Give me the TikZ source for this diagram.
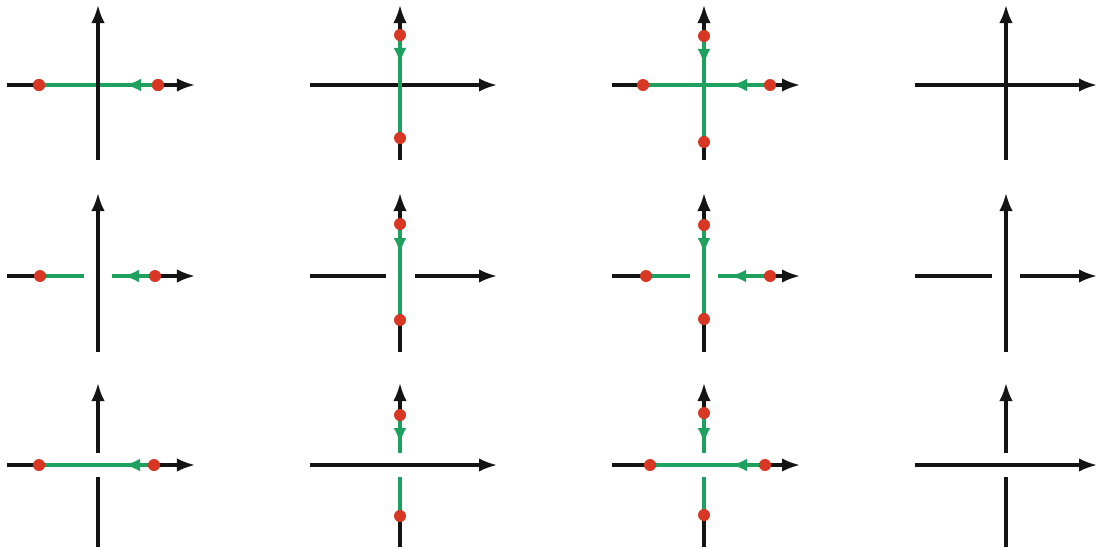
\documentclass[tikz,border=0pt]{standalone}
\usetikzlibrary{arrows.meta}
\definecolor{flowgreen}{RGB}{30,160,95}
\definecolor{fixred}{RGB}{215,55,35}
\tikzset{
  axisline/.style={line width=2.2pt, black!92},
  axisarrow/.style={axisline, -{Latex[length=0.45cm,width=0.34cm]}},
  greenline/.style={line width=2.2pt, flowgreen},
  greenarrow/.style={greenline, -{Latex[length=0.4cm,width=0.32cm]}},
  fixpt/.style={circle, fill=fixred, inner sep=0pt, minimum size=0.3cm}
}
\begin{document}
\begin{tikzpicture}[x=0.025cm, y=-0.025cm]
\useasboundingbox (0,0) rectangle (1098,547);

% row 1, column 1
\coordinate (l11) at (7,85);
\coordinate (r11) at (195,85);
\coordinate (b11) at (98,160);
\coordinate (t11) at (98,5);
\coordinate (h11) at (125,85);
\node[fixpt] (a11) at (39,85) {};
\node[fixpt] (c11) at (158,85) {};
\draw[axisarrow] (l11) -- (r11);
\draw[greenline] (a11.center) -- (c11.center);
\draw[greenarrow] (c11.center) -- (h11);
\draw[axisarrow] (b11) -- (t11);
\node[fixpt] at (a11) {};
\node[fixpt] at (c11) {};

% row 1, column 2
\coordinate (l12) at (310,85);
\coordinate (r12) at (497,85);
\coordinate (b12) at (400,160);
\coordinate (t12) at (400,5);
\coordinate (v12) at (400,64);
\draw[axisarrow] (l12) -- (r12);
\draw[axisarrow] (b12) -- (t12);
\node[fixpt] (d12) at (400,35) {};
\node[fixpt] (e12) at (400,138) {};
\draw[greenline] (d12) -- (e12);
\draw[greenarrow] (d12) -- (v12);

% row 1, column 3
\coordinate (l13) at (612,85);
\coordinate (r13) at (800,85);
\coordinate (b13) at (704,160);
\coordinate (t13) at (704,5);
\coordinate (h13) at (731,85);
\coordinate (v13) at (704,65);
\draw[axisarrow] (l13) -- (r13);
\draw[axisarrow] (b13) -- (t13);
\node[fixpt] (a13) at (643,85) {};
\node[fixpt] (c13) at (770,85) {};
\node[fixpt] (d13) at (704,36) {};
\node[fixpt] (e13) at (704,142) {};
\draw[greenline] (a13) -- (c13);
\draw[greenline] (d13) -- (e13);
\draw[greenarrow] (c13) -- (h13);
\draw[greenarrow] (d13) -- (v13);

% row 1, column 4
\coordinate (l14) at (915,85);
\coordinate (r14) at (1097,85);
\coordinate (b14) at (1006,160);
\coordinate (t14) at (1006,5);
\draw[axisarrow] (l14) -- (r14);
\draw[axisarrow] (b14) -- (t14);

% row 2, column 1
\coordinate (l21) at (7,276);
\coordinate (m21) at (84,276);
\coordinate (n21) at (112,276);
\coordinate (r21) at (195,276);
\coordinate (b21) at (98,352);
\coordinate (t21) at (98,193);
\coordinate (h21) at (123,276);
\draw[axisline] (l21) -- (m21);
\draw[axisarrow] (n21) -- (r21);
\draw[axisarrow] (b21) -- (t21);
\node[fixpt] (a21) at (40,276) {};
\node[fixpt] (c21) at (155,276) {};
\draw[greenline] (a21) -- (m21);
\draw[greenline] (c21) -- (n21);
\draw[greenarrow] (c21) -- (h21);

% row 2, column 2
\coordinate (l22) at (310,276);
\coordinate (m22) at (386,276);
\coordinate (n22) at (415,276);
\coordinate (r22) at (497,276);
\coordinate (b22) at (400,352);
\coordinate (t22) at (400,193);
\coordinate (v22) at (400,254);
\draw[axisline] (l22) -- (m22);
\draw[axisarrow] (n22) -- (r22);
\draw[axisarrow] (b22) -- (t22);
\node[fixpt] (d22) at (400,224) {};
\node[fixpt] (e22) at (400,320) {};
\draw[greenline] (d22) -- (e22);
\draw[greenarrow] (d22) -- (v22);

% row 2, column 3
\coordinate (l23) at (612,276);
\coordinate (m23) at (690,276);
\coordinate (n23) at (718,276);
\coordinate (r23) at (800,276);
\coordinate (b23) at (704,352);
\coordinate (t23) at (704,193);
\coordinate (h23) at (730,276);
\coordinate (v23) at (704,254);
\draw[axisline] (l23) -- (m23);
\draw[axisarrow] (n23) -- (r23);
\draw[axisarrow] (b23) -- (t23);
\node[fixpt] (a23) at (646,276) {};
\node[fixpt] (c23) at (770,276) {};
\node[fixpt] (d23) at (704,225) {};
\node[fixpt] (e23) at (704,319) {};
\draw[greenline] (a23) -- (m23);
\draw[greenline] (c23) -- (n23);
\draw[greenline] (d23) -- (e23);
\draw[greenarrow] (c23) -- (h23);
\draw[greenarrow] (d23) -- (v23);

% row 2, column 4
\coordinate (l24) at (915,276);
\coordinate (m24) at (992,276);
\coordinate (n24) at (1020,276);
\coordinate (r24) at (1097,276);
\coordinate (b24) at (1006,352);
\coordinate (t24) at (1006,193);
\draw[axisline] (l24) -- (m24);
\draw[axisarrow] (n24) -- (r24);
\draw[axisarrow] (b24) -- (t24);

% row 3, column 1
\coordinate (l31) at (7,465);
\coordinate (r31) at (195,465);
\coordinate (b31) at (98,547);
\coordinate (p31) at (98,477);
\coordinate (q31) at (98,453);
\coordinate (t31) at (98,383);
\coordinate (h31) at (124,465);
\draw[axisarrow] (l31) -- (r31);
\draw[axisline] (b31) -- (p31);
\draw[axisarrow] (q31) -- (t31);
\node[fixpt] (a31) at (39,465) {};
\node[fixpt] (c31) at (154,465) {};
\draw[greenline] (a31) -- (c31);
\draw[greenarrow] (c31) -- (h31);

% row 3, column 2
\coordinate (l32) at (310,465);
\coordinate (r32) at (497,465);
\coordinate (b32) at (400,547);
\coordinate (p32) at (400,477);
\coordinate (q32) at (400,453);
\coordinate (t32) at (400,383);
\coordinate (v32) at (400,444);
\draw[axisarrow] (l32) -- (r32);
\draw[axisline] (b32) -- (p32);
\draw[axisarrow] (q32) -- (t32);
\node[fixpt] (d32) at (400,415) {};
\node[fixpt] (e32) at (400,516) {};
\draw[greenline] (d32) -- (q32);
\draw[greenline] (e32) -- (p32);
\draw[greenarrow] (d32) -- (v32);

% row 3, column 3
\coordinate (l33) at (612,465);
\coordinate (r33) at (800,465);
\coordinate (b33) at (704,547);
\coordinate (p33) at (704,477);
\coordinate (q33) at (704,453);
\coordinate (t33) at (704,383);
\coordinate (h33) at (731,465);
\coordinate (v33) at (704,444);
\draw[axisarrow] (l33) -- (r33);
\draw[axisline] (b33) -- (p33);
\draw[axisarrow] (q33) -- (t33);
\node[fixpt] (a33) at (650,465) {};
\node[fixpt] (c33) at (765,465) {};
\node[fixpt] (d33) at (704,413) {};
\node[fixpt] (e33) at (704,515) {};
\draw[greenline] (a33) -- (c33);
\draw[greenline] (d33) -- (q33);
\draw[greenline] (e33) -- (p33);
\draw[greenarrow] (c33) -- (h33);
\draw[greenarrow] (d33) -- (v33);

% row 3, column 4
\coordinate (l34) at (915,465);
\coordinate (r34) at (1097,465);
\coordinate (b34) at (1006,547);
\coordinate (p34) at (1006,477);
\coordinate (q34) at (1006,453);
\coordinate (t34) at (1006,383);
\draw[axisarrow] (l34) -- (r34);
\draw[axisline] (b34) -- (p34);
\draw[axisarrow] (q34) -- (t34);

\end{tikzpicture}
\end{document}
